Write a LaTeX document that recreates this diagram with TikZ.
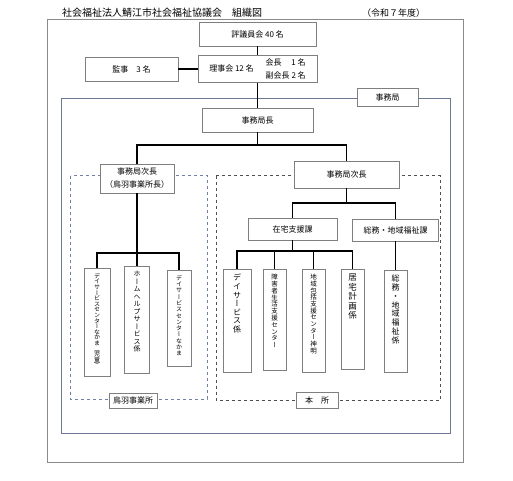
\documentclass[tikz,border=0pt]{standalone}
\usepackage{fontspec}
\setmainfont{Noto Sans CJK JP}
\newfontfamily\vjp[RawFeature=+vert]{Noto Sans CJK JP}

% Stack the characters of #2 one below the other in a box of height #1
\makeatletter
\newcommand\vtext[2]{\vbox to #1{\lineskiplimit=-100pt\kern5pt\@tfor\vch:=#2\do{\hbox to 1em{\hss\vch\hss}}\vfil}}
\makeatother

\tikzset{
    box/.style={draw=boxGrey, fill=white, inner sep=0pt, font=\fontsize{8}{13}\selectfont, align=center},
    vbox/.style={draw=boxGrey, fill=white, inner sep=0pt, anchor=north, minimum width=24pt},
    tag/.style={draw=boxGrey, fill=white, inner sep=0pt, font=\fontsize{8}{10}\selectfont},
    conn/.style={line width=1.6pt, black}
}

\begin{document}
\begin{tikzpicture}[x=1pt, y=-1pt]
    % Define colours
    \definecolor{boxGrey}{HTML}{7F7F7F}
    \definecolor{frameGrey}{HTML}{8A8A8A}
    \definecolor{frameBlue}{HTML}{6C7891}
    \definecolor{dashBlue}{HTML}{6F82A6}
    \definecolor{dashGrey}{HTML}{505050}

    \useasboundingbox (0,0) rectangle (513,480);

    % Title
    \node[anchor=west, inner sep=0pt, font=\fontsize{10}{12}\selectfont] (title) at (62,13) {社会福祉法人鯖江市社会福祉協議会　組織図};
    \node[anchor=west, inner sep=0pt, font=\fontsize{9}{11}\selectfont] (year) at (362,13) {（令和７年度）};

    % Draw frames
    \draw[frameGrey, line width=1pt] (47,19) rectangle (463,462);
    \draw[frameBlue, line width=1pt] (61,98) rectangle (450,433);
    \draw[dashBlue, dashed, line width=0.7pt] (70.5,175.5) rectangle (207,399);
    \draw[dashGrey, dashed, line width=0.7pt] (216,175.5) rectangle (440,400);

    % Board
    \node[box, minimum width=117pt, minimum height=24pt] (council) at (257.5,34) {評議員会 40 名};
    \node[box, minimum width=119pt, minimum height=27pt] (board) at (257.5,69)
        {理事会 12 名\hspace{12pt}\begin{tabular}{@{}l@{}}会長\hspace{1.2em}1 名\\副会長 2 名\end{tabular}};
    \node[box, minimum width=93pt, minimum height=24pt] (auditor) at (131.5,69) {監事　3 名};

    % Secretariat
    \node[tag, minimum width=61pt, minimum height=18pt] (office) at (387.5,97) {事務局};
    \node[box, minimum width=111pt, minimum height=24pt] (head) at (257.5,120) {事務局長};
    \node[box, minimum width=74pt, minimum height=29pt] (deputyL) at (137,178.5) {事務局次長\\（鳥羽事業所長）};
    \node[box, minimum width=105pt, minimum height=27pt] (deputyR) at (346.5,174.5) {事務局次長};
    \node[box, minimum width=89pt, minimum height=22pt] (homeSec) at (292.5,229) {在宅支援課};
    \node[box, minimum width=86pt, minimum height=22pt] (genSec) at (395.5,230) {総務・地域福祉課};

    % Toba units
    \node[vbox, minimum width=26pt, font=\vjp\fontsize{6}{5.6}\selectfont] (toba1) at (97,268)
        {\vtext{108pt}{デイサービスセンターなかま（児童）}};
    \node[vbox, minimum width=25pt, font=\vjp\fontsize{7}{7.5}\selectfont] (toba2) at (137,266)
        {\vtext{107pt}{ホームヘルプサービス係}};
    \node[vbox, font=\vjp\fontsize{6}{6.3}\selectfont] (toba3) at (179,270)
        {\vtext{96pt}{デイサービスセンターなかま}};

    % Head office units
    \node[vbox, minimum width=28pt, font=\vjp\fontsize{8}{8.6}\selectfont] (unit1) at (237,269)
        {\vtext{103pt}{デイサービス係}};
    \node[vbox, minimum width=23pt, font=\vjp\fontsize{6.5}{6.8}\selectfont] (unit2) at (274.5,269)
        {\vtext{101pt}{障害者生活支援センター}};
    \node[vbox, minimum width=23pt, font=\vjp\fontsize{6.5}{6.7}\selectfont] (unit3) at (313.5,269)
        {\vtext{103pt}{地域包括支援センター神明}};
    \node[vbox, minimum width=23pt, font=\vjp\fontsize{8.5}{9.4}\selectfont] (unit4) at (352.5,269)
        {\vtext{100pt}{居宅計画係}};
    \node[vbox, minimum width=23pt, font=\vjp\fontsize{8}{8.75}\selectfont] (unit5) at (395.5,270)
        {\vtext{102pt}{総務・地域福祉係}};

    % Frame labels
    \node[tag, minimum width=48pt, minimum height=15pt] (tobaTag) at (133,400.5) {鳥羽事業所};
    \node[tag, minimum width=42pt, minimum height=16pt] (mainTag) at (317,400) {本　所};

    % Bus coordinates
    \coordinate (busTop) at (257.5,145);
    \coordinate (busToba) at (137,253);
    \coordinate (busMain) at (346.5,203);
    \coordinate (busHome) at (292.5,251);

    % Draw connectors
    \draw[conn] (council) -- (board);
    \draw[conn] (auditor) -- (board);
    \draw[conn] (board) -- (head);
    \draw[conn] (head) -- (busTop);
    \draw[conn] (deputyL.north) |- (busTop) -| (deputyR.north);

    \draw[conn] (deputyL) -- (busToba);
    \draw[conn] (toba1.north) |- (busToba) -| (toba3.north);
    \draw[conn] (busToba) -- (toba2.north);

    \draw[conn] (deputyR) -- (busMain);
    \draw[conn] (homeSec.north) |- (busMain) -| (genSec.north);
    \draw[conn] (homeSec) -- (busHome);
    \draw[conn] (unit1.north) |- (busHome) -| (unit4.north);
    \draw[conn] (unit2.north) -- (unit2.north |- busHome);
    \draw[conn] (unit3.north) -- (unit3.north |- busHome);
    \draw[conn] (genSec) -- (unit5);

\end{tikzpicture}
\end{document}
